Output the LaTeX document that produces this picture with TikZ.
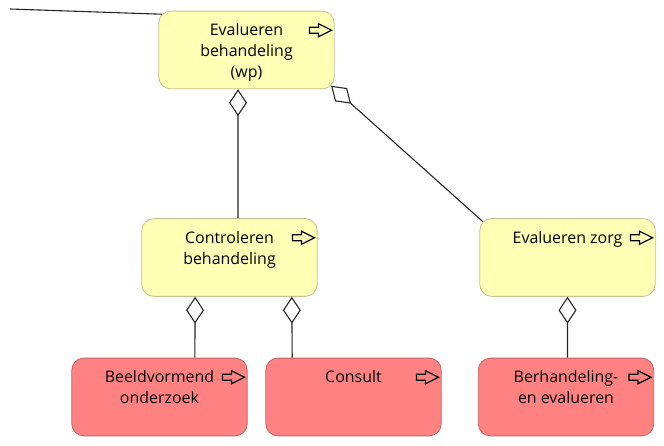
\documentclass[tikz,border=0pt]{standalone}
\usepackage{fontspec}
\setmainfont{Open Sans}
\usetikzlibrary{arrows.meta,calc}

\definecolor{procfill}{HTML}{FFFFB5}
\definecolor{procdraw}{HTML}{C3C38C}
\definecolor{actfill}{HTML}{FF8282}
\definecolor{actdraw}{HTML}{C06464}
\definecolor{linkcol}{HTML}{262626}

\tikzset{
  elem/.style={rounded corners=12, minimum width=176, minimum height=78,
    inner sep=0, line width=0.8},
  proc/.style={elem, fill=procfill, draw=procdraw},
  act/.style={elem, fill=actfill, draw=actdraw},
  caption/.style={anchor=north, inner sep=0, align=center,
    font=\fontsize{16}{21}\selectfont},
  aggr/.style={draw=linkcol, line width=1.1,
    {Diamond[open, length=27, width=18, line width=1.1]}-},
  plain/.style={draw=linkcol, line width=1.1},
}

% outlined process arrow in the top-right corner of an element
\newcommand{\procicon}[1]{%
  \draw[line width=1.2, draw=black, line join=miter]
    ([shift={(-25,16.5)}]#1.north east) -- ++(9,0) -- ++(0,-3.5) -- ++(13,6.5)
    -- ++(-13,6.5) -- ++(0,-3.5) -- ++(-9,0) -- cycle;}

\begin{document}
\begin{tikzpicture}[x=1bp, y=-1bp]
\useasboundingbox (0,0) rectangle (664,446);

% elements
\node[proc] (wp)      at (246.5, 50)   {};
\node[proc] (ctl)     at (229.5, 257.5) {};
\node[proc] (zorg)    at (567.5, 257.5) {};
\node[act]  (beeld)   at (159.5, 397)  {};
\node[act]  (consult) at (353.5, 397)  {};
\node[act]  (berh)    at (566, 397)    {};

% captions
\node[caption] (twp)      at ([yshift=-12.8]wp.north)      {Evalueren\\behandeling\\(wp)};
\node[caption] (tctl)     at ([yshift=-12.8]ctl.north)     {Controleren\\behandeling};
\node[caption] (tzorg)    at ([yshift=-12.8]zorg.north)    {Evalueren zorg};
\node[caption] (tbeeld)   at ([yshift=-12.8]beeld.north)   {Beeldvormend\\onderzoek};
\node[caption] (tconsult) at ([yshift=-12.8]consult.north) {Consult};
\node[caption] (tberh)    at ([yshift=-12.8]berh.north)    {Berhandeling-\\en evalueren};

% process icons
\procicon{wp}
\procicon{ctl}
\procicon{zorg}
\procicon{beeld}
\procicon{consult}
\procicon{berh}

% connectors
\coordinate (offleft) at (10, 9);
\draw[plain] (offleft) -- ([shift={(3.5,3.5)}]wp.north west);
\draw[aggr] ([xshift=-8.5]wp.south) -- ([xshift=8.5]ctl.north);
\draw[aggr] ([shift={(-3.5,-3.5)}]wp.south east) -- ([shift={(3.5,3.5)}]zorg.north west);
\draw[aggr] ([xshift=-34.5]ctl.south) -- ([xshift=35.5]beeld.north);
\draw[aggr] ([xshift=62.5]ctl.south) -- ([xshift=-61.5]consult.north);
\draw[aggr] (zorg.south) -- ([xshift=1.5]berh.north);
\end{tikzpicture}
\end{document}
